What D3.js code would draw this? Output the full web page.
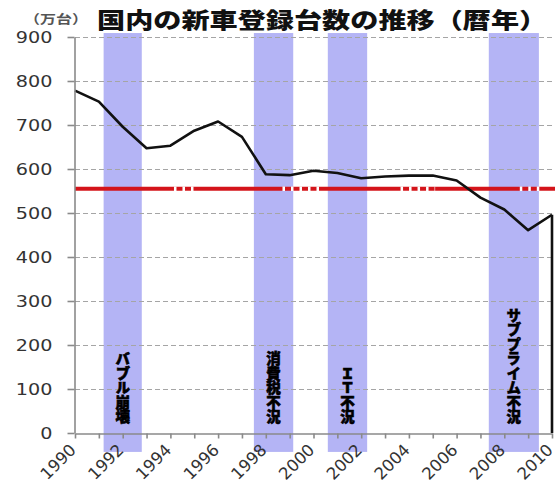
<!DOCTYPE html>
<html lang="ja">
<head>
<meta charset="utf-8">
<script src="https://cdn.jsdelivr.net/npm/d3@7"></script>
<style>
  html, body { margin: 0; padding: 0; background: #fff; }
  svg { display: block; }
</style>
</head>
<body>
<svg id="chart" width="555" height="484"></svg>
<script>
// 国内の新車登録台数（万台・暦年）
const years = [1990, 1991, 1992, 1993, 1994, 1995, 1996, 1997, 1998, 1999, 2000,
               2001, 2002, 2003, 2004, 2005, 2006, 2007, 2008, 2009, 2010];
const registrations = [778, 753, 696, 647, 653, 687, 708, 673, 588, 586, 596,
                       591, 579, 583, 585, 585, 574, 535, 508, 461, 496];

// 不況期（年の範囲）
const recessionLabels = ["バブル崩壊", "消費税不況", "ＩＴ不況", "サブプライム不況"];
const recessionStart = [1991.2, 1997.5, 2000.6, 2007.35];
const recessionEnd   = [1992.8, 1999.15, 2002.25, 2009.45];

// 基準線（万台）
const referenceLevel = 555;

const yTickValues = [0, 100, 200, 300, 400, 500, 600, 700, 800, 900];
const xTickLabels = [1990, 1992, 1994, 1996, 1998, 2000, 2002, 2004, 2006, 2008, 2010];

const title = "国内の新車登録台数の推移（暦年）";
const unitLabel = "（万台）";

// ---- drawing ----
const W = 555, H = 484;
const stretch = 1.28;            // wide lettering
const svg = d3.select("#chart");

const x = d3.scaleLinear().domain([1990, 2010]).range([75, 552]);
const y = d3.scaleLinear().domain([0, 900]).range([433, 37]);

// recession bands (run a little above the top and below the axis)
const bands = recessionLabels.map((label, i) => ({
  label, start: recessionStart[i], end: recessionEnd[i]
}));
svg.append("g").selectAll("rect").data(bands).join("rect")
  .attr("x", d => x(d.start))
  .attr("width", d => x(d.end) - x(d.start))
  .attr("y", y(909))
  .attr("height", y(-43) - y(909))
  .attr("fill", "#b4b4f5");

// dashed horizontal grid
svg.append("g").selectAll("line").data(yTickValues.filter(v => v > 0)).join("line")
  .attr("x1", x(1990)).attr("x2", W)
  .attr("y1", d => Math.round(y(d)) + 0.5).attr("y2", d => Math.round(y(d)) + 0.5)
  .attr("stroke", "#a5a5a5")
  .attr("stroke-width", 1)
  .attr("stroke-dasharray", "5,3");

// red reference line, with its broken stretches
const refY = y(referenceLevel);
svg.append("line")
  .attr("x1", x(1990)).attr("x2", W)
  .attr("y1", refY).attr("y2", refY)
  .attr("stroke", "#d4141a").attr("stroke-width", 4);
const refBreaks = [[1994.15, 1995.05], [1998.7, 2000.4], [2003.65, 2005.1], [2008.65, 2009.6]];
svg.append("g").selectAll("line").data(refBreaks).join("line")
  .attr("x1", d => x(d[0])).attr("x2", d => x(d[1]))
  .attr("y1", refY).attr("y2", refY)
  .attr("stroke", "#fff").attr("stroke-width", 4.5)
  .attr("stroke-dasharray", "2.5,6");

// registrations line
const series = years.map((yr, i) => ({ year: yr, value: registrations[i] }));
svg.append("path")
  .datum(series)
  .attr("fill", "none")
  .attr("stroke", "#111")
  .attr("stroke-width", 2.6)
  .attr("stroke-linejoin", "round")
  .attr("d", d3.line().x(d => x(d.year)).y(d => y(d.value)));

// closing drop at the last year
const last = series[series.length - 1];
svg.append("line")
  .attr("x1", x(last.year)).attr("x2", x(last.year))
  .attr("y1", y(last.value)).attr("y2", y(0))
  .attr("stroke", "#111").attr("stroke-width", 2.6);

// y axis
const yAxis = svg.append("g")
  .attr("transform", `translate(${x(1990) - 0.5},0)`)
  .call(d3.axisLeft(y).tickValues(yTickValues).tickSize(7).tickSizeOuter(0));
yAxis.select(".domain").attr("stroke", "#8a8a8a").attr("stroke-width", 1.6);
yAxis.selectAll(".tick line").attr("stroke", "#8a8a8a").attr("stroke-width", 1.6);
yAxis.selectAll(".tick text")
  .attr("x", -22 / stretch)
  .attr("dy", "0.36em")
  .attr("transform", `scale(${stretch},1)`)
  .attr("font-family", "'DejaVu Sans', Verdana, sans-serif")
  .attr("font-size", 15)
  .attr("fill", "#333");

// x axis (a tick for every year, a label every other year)
const xAxis = svg.append("g")
  .attr("transform", `translate(0,${y(0) + 0.5})`)
  .call(d3.axisBottom(x).tickValues(years).tickSize(5).tickSizeOuter(0).tickFormat(""));
xAxis.select(".domain").attr("stroke", "#8a8a8a").attr("stroke-width", 1.6);
xAxis.selectAll(".tick line").attr("stroke", "#8a8a8a").attr("stroke-width", 1.6);

svg.append("g").selectAll("text").data(xTickLabels).join("text")
  .attr("transform", d => `translate(${x(d) + 2},${y(0) + 18}) rotate(-45)`)
  .attr("text-anchor", "end")
  .attr("font-family", "'DejaVu Sans', Verdana, sans-serif")
  .attr("font-size", 16.5)
  .attr("fill", "#333")
  .text(d => d);

// recession labels, set vertically
svg.append("g").selectAll("text").data(bands).join("text")
  .attr("x", d => x((d.start + d.end) / 2))
  .attr("y", 424)
  .attr("text-anchor", "end")
  .style("writing-mode", "vertical-rl")
  .attr("font-family", "'Noto Sans CJK JP', sans-serif")
  .attr("font-weight", 900)
  .attr("font-size", 14.5)
  .attr("fill", "#000")
  .attr("stroke", "#000").attr("stroke-width", 0.6)
  .text(d => d.label);

// title and unit
svg.append("text")
  .attr("transform", `translate(97,28) scale(${stretch},1)`)
  .attr("font-family", "'Noto Sans CJK JP', sans-serif")
  .attr("font-weight", 900)
  .attr("font-size", 22)
  .attr("fill", "#111")
  .text(title);
svg.append("text")
  .attr("transform", `translate(24,24) scale(${stretch},1)`)
  .attr("font-family", "'Noto Sans CJK JP', sans-serif")
  .attr("font-weight", 700)
  .attr("font-size", 12.5)
  .attr("fill", "#555")
  .text(unitLabel);
</script>
</body>
</html>
